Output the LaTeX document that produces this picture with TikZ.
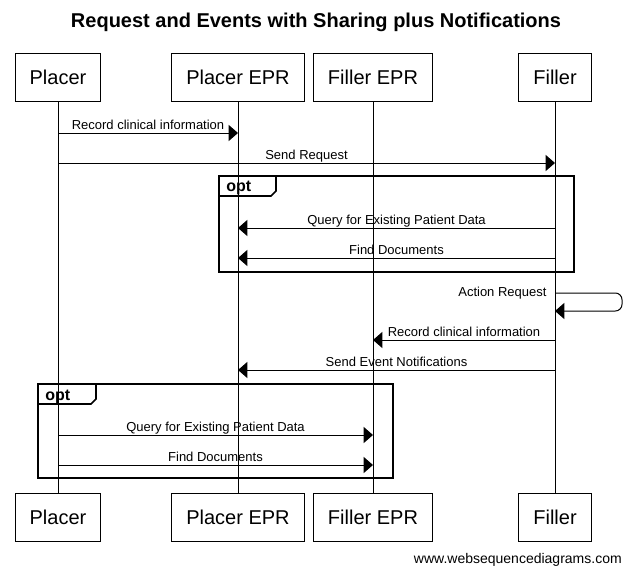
\documentclass[tikz,border=0pt]{standalone}
\usepackage{fontspec}
\setmainfont{Liberation Sans}
\usepackage{xcolor}
\usepackage{tikz}
\usetikzlibrary{arrows.meta}

\begin{document}
\begin{tikzpicture}[
    x=0.75pt, y=-0.75pt,
    actor/.style={rectangle, draw, line width=0.75pt,
                  font=\fontsize{15}{18}\selectfont,
                  inner xsep=10.9pt, minimum height=36pt},
    lifeline/.style={line width=0.75pt},
    msg/.style={line width=0.75pt, -{Triangle[length=7pt, width=12pt]}},
    lbl/.style={font=\fontsize{9.75}{11}\selectfont, anchor=base,
                inner sep=0pt, yshift=2.5pt},
    frame/.style={line width=1.3pt},
    optlabel/.style={font=\bfseries\fontsize{12}{14}\selectfont, inner sep=0pt}
]
\useasboundingbox (0,0) rectangle (632,575);

\node[font=\bfseries\fontsize{15}{18}\selectfont] (title) at (316,22) {Request and Events with Sharing plus Notifications};

\node[actor] (placer) at (58,77) {Placer};
\node[actor] (placerepr) at (238,77) {Placer EPR};
\node[actor] (fillerepr) at (373,77) {Filler EPR};
\node[actor] (filler) at (555,77) {Filler};

\node[actor] (placerB) at (58,517) {Placer};
\node[actor] (placereprB) at (238,517) {Placer EPR};
\node[actor] (fillereprB) at (373,517) {Filler EPR};
\node[actor] (fillerB) at (555,517) {Filler};

\draw[lifeline] (placer) -- (placerB);
\draw[lifeline] (placerepr) -- (placereprB);
\draw[lifeline] (fillerepr) -- (fillereprB);
\draw[lifeline] (filler) -- (fillerB);

\draw[msg] (placer |- 0,133) -- node[lbl] {Record clinical information} (placerepr |- 0,133);
\draw[msg] (placer |- 0,163) -- node[lbl] {Send Request} (filler |- 0,163);

\draw[frame] (219,176) rectangle (574,272);
\draw[frame] (219,196) -- (271,196) -- (276,191) -- (276,176);
\node[optlabel, anchor=base west] (opt1) at (226,191) {opt};

\draw[msg] (filler |- 0,228) -- node[lbl] {Query for Existing Patient Data} (placerepr |- 0,228);
\draw[msg] (filler |- 0,258) -- node[lbl] {Find Documents} (placerepr |- 0,258);

\draw[msg, rounded corners=5pt] (filler |- 0,293)
    node[anchor=east, xshift=-6pt, inner sep=0pt, font=\fontsize{9.75}{11}\selectfont] {Action Request}
    -- ++(67,0) |- (filler |- 0,311);

\draw[msg] (filler |- 0,340) -- node[lbl] {Record clinical information} (fillerepr |- 0,340);
\draw[msg] (filler |- 0,370) -- node[lbl] {Send Event Notifications} (placerepr |- 0,370);

\draw[frame] (38,384) rectangle (393,478);
\draw[frame] (38,404) -- (91,404) -- (96,399) -- (96,384);
\node[optlabel, anchor=base west] (opt2) at (45,400) {opt};

\draw[msg] (placer |- 0,435) -- node[lbl] {Query for Existing Patient Data} (fillerepr |- 0,435);
\draw[msg] (placer |- 0,465) -- node[lbl] {Find Documents} (fillerepr |- 0,465);

\node[anchor=east, inner sep=0pt, font=\fontsize{10.5}{12}\selectfont] (wsd) at (622,560) {www.websequencediagrams.com};
\end{tikzpicture}
\end{document}
